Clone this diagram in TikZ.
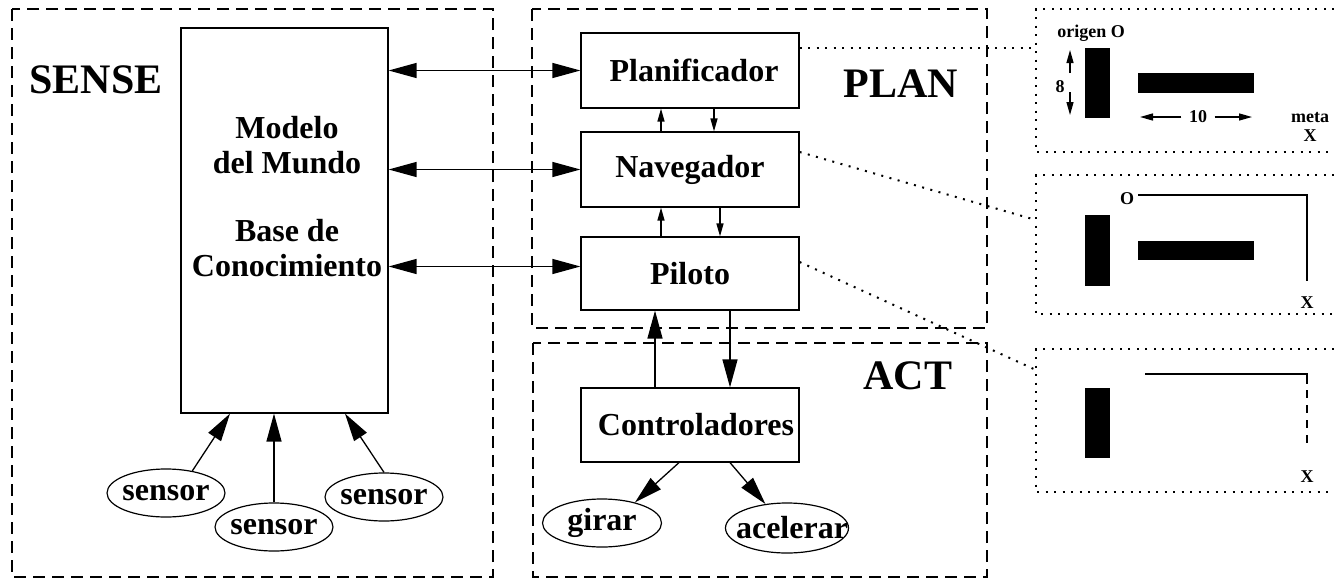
\documentclass[tikz,border=0pt]{standalone}
\usepackage{fontspec}
\setmainfont{Liberation Serif}
\usepackage{tikz}
\usetikzlibrary{positioning, arrows.meta, shapes.geometric, calc}

\def\boxfont{\fontsize{32}{35}\selectfont\bfseries}
\def\zonefont{\fontsize{42}{46}\selectfont\bfseries}
\def\mapfont{\fontsize{18}{20}\selectfont\bfseries}

\def\mapas{%
    % dotted frames
    \foreach \ya/\yb in {9/152, 175/314, 349/492}
    {
        \draw[puntos] (1334,\ya) -- (1036,\ya) -- (1036,\yb) -- (1334,\yb);
    }

    % obstacles
    \foreach \ya/\yb in {48/118, 215/286, 388/458}
    {
        \fill[black] (1085,\ya) rectangle (1110,\yb);
    }
    \fill[black] (1138,73) rectangle (1254,93);
    \fill[black] (1138,241) rectangle (1254,260);

    % first map
    \node[font=\mapfont] (origen) at (1091,33) {origen O};
    \node[font=\mapfont] (ocho) at (1060,87) {8};
    \draw[tiny] (1070,73) -- (1070,50);
    \draw[tiny] (1070,92) -- (1070,115);
    \node[font=\mapfont] (diez) at (1198,117) {10};
    \draw[tiny] (diez.west) ++(-4,0) -- (1140,117);
    \draw[tiny] (diez.east) ++(4,0) -- (1252,117);
    \node[font=\mapfont] (meta) at (1310,118) {meta};
    \node[font=\mapfont] (x1) at (1310,136) {X};

    % second map
    \node[font=\mapfont] (o2) at (1127,199) {O};
    \draw[line width=1.2pt] (1138,195) -- (1307,195) -- (1307,281);
    \node[font=\mapfont] (x2) at (1307,303) {X};

    % third map
    \draw[line width=1.2pt] (1145,374) -- (1307,374) -- (1307,384);
    \draw[line width=1.2pt, dash pattern=on 8pt off 7pt] (1307,390) -- (1307,445);
    \node[font=\mapfont] (x3) at (1307,477) {X};

    % entry points
    \coordinate (m1) at (1036,48);
    \coordinate (m2) at (1036,220);
    \coordinate (m3) at (1036,370);
}

\begin{document}
\begin{tikzpicture}[x=1pt, y=-1pt,
    caja/.style={draw, line width=1.2pt, minimum width=218pt, minimum height=75pt, inner sep=0pt, font=\boxfont},
    elip/.style={draw, ellipse, line width=1.2pt, minimum width=118pt, minimum height=48pt, inner sep=0pt, font=\boxfont},
    zona/.style={line width=1.2pt, dash pattern=on 12pt off 7pt},
    puntos/.style={line width=2pt, dash pattern=on 2pt off 6.5pt},
    big/.style={line width=1.3pt, arrows={-Triangle[length=28pt,width=15pt]}},
    bigboth/.style={line width=1.3pt, arrows={Triangle[length=28pt,width=15pt]-Triangle[length=28pt,width=15pt]}},
    tiny/.style={line width=1.3pt, arrows={-Triangle[length=13pt,width=7pt]}}]

    \useasboundingbox (0,0) rectangle (1334,581);

    % dashed zones
    \draw[zona] (12,9) rectangle (493,577);
    \draw[zona] (532,9) rectangle (987,328);
    \draw[zona] (533,343) rectangle (987,577);

    \node[font=\zonefont] (sense) at (96,80) {SENSE};
    \node[font=\zonefont] (plantxt) at (901,84) {PLAN};
    \node[font=\zonefont] (act) at (908,376) {ACT};

    % world model
    \node[draw, line width=1.2pt, minimum width=207pt, minimum height=385pt] (model) at (284.5,220.5) {};
    \node[font=\boxfont, align=center] (modeltxt) at (287,197)
        {Modelo\\del Mundo\\[33pt]Base de\\Conocimiento};

    % plan boxes
    \node[caja] (plan) at (690,70.5) {\hspace{8pt}Planificador};
    \node[caja] (nav) at (690,169.5) {Navegador};
    \node[caja, minimum height=73pt] (pil) at (690,273.5) {Piloto};
    \node[caja, minimum height=74pt] (ctrl) at (690,425) {\hspace{12pt}Controladores};

    % sensors and actuators
    \foreach \name/\x/\y in {s1/166/493, s2/274/527, s3/384/497}
    {
        \node[elip] (\name) at (\x,\y) {\makebox[0pt]{sensor}};
    }
    \node[elip, minimum width=119pt] (girar) at (602,523) {\makebox[0pt]{girar}};
    \node[elip, minimum width=123pt, minimum height=50pt] (acel) at (787,528) {\makebox[0pt]{\hspace{10pt}acelerar}};

    % model <-> plan
    \coordinate (pilin) at ([yshift=7pt]pil.west);
    \draw[bigboth] (plan.west -| model.east) -- (plan.west);
    \draw[bigboth] (nav.west -| model.east) -- (nav.west);
    \draw[bigboth] (pilin -| model.east) -- (pilin);

    % inside plan
    \draw[tiny] ([xshift=-29pt]nav.north) -- ([xshift=-29pt]plan.south);
    \draw[tiny] ([xshift=24pt]plan.south) -- ([xshift=24pt]nav.north);
    \draw[tiny] ([xshift=-29pt]pil.north) -- ([xshift=-29pt]nav.south);
    \draw[tiny] ([xshift=30pt]nav.south) -- ([xshift=30pt]pil.north);

    % plan <-> act
    \draw[big] ([xshift=-35pt]ctrl.north) -- ([xshift=-35pt]pil.south);
    \draw[big] ([xshift=40pt]pil.south) -- ([xshift=40pt]ctrl.north);
    \draw[big] ([xshift=-11pt]ctrl.south) -- (girar.32);
    \draw[big] ([xshift=40pt]ctrl.south) -- (acel.132);

    % sensors -> model
    \draw[big] (s1.40) -- ([xshift=-54.5pt]model.south);
    \draw[big] (s2.north) -- (s2.north |- model.south);
    \draw[big] (s3.north) -- ([xshift=60.5pt]model.south);

    % maps
    \mapas
    \draw[puntos] ([yshift=22.5pt]plan.east) -- (m1);
    \draw[puntos] ([yshift=17.5pt]nav.east) -- (m2);
    \draw[puntos] ([yshift=11.5pt]pil.east) -- (m3);
\end{tikzpicture}
\end{document}
